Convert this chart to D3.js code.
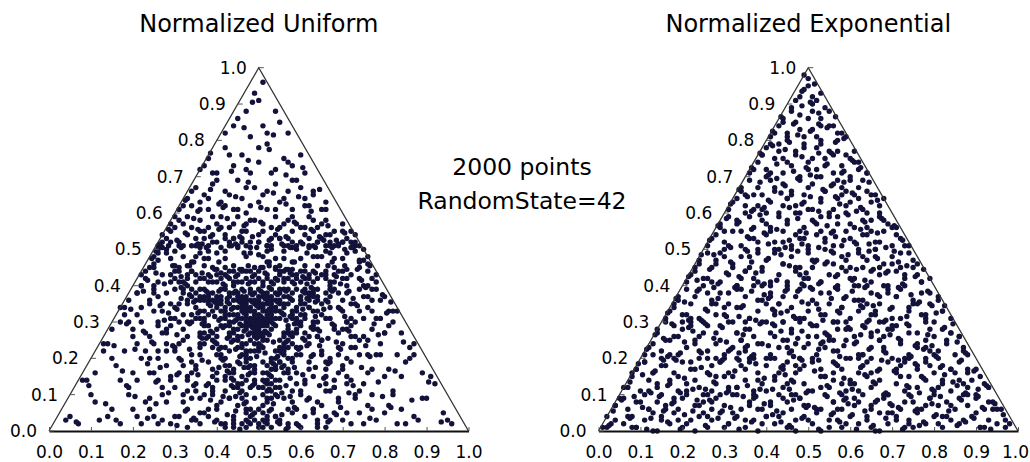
<!DOCTYPE html>
<html>
<head>
<meta charset="utf-8">
<script src="https://cdn.jsdelivr.net/npm/d3@7"></script>
<style>
  body { margin: 0; background: #fff; }
  text { font-family: "DejaVu Sans", sans-serif; }
</style>
</head>
<body>
<svg id="chart" width="1030" height="462"></svg>
<script>
// titles and annotation
const panelTitles = ["Normalized Uniform", "Normalized Exponential"]
const noteLines = ["2000 points", "RandomState=42"]
const tickValues = [0, 0.1, 0.2, 0.3, 0.4, 0.5, 0.6, 0.7, 0.8, 0.9, 1.0]

// points: [position along base %, height %]
// (a sample of the 2000 dots, estimated region by region)
const uniformPoints = [
  [42,39],[45,38],[48,39],[51,40],[54,38],[57,39],[59,39],[44,40],[50,37],[53,39],[56,37],[47,37],[41,39],
  [44,36],[46,35],[49,36],[52,35],[55,36],[57,35],[43,35],[48,34],[51,37],[54,34],[50,35],[46,37],[53,36],[56,34],[45,34],[58,36],
  [45,31],[47,32],[49,31],[51,33],[53,32],[55,31],[48,33],[50,30],[52,31],[46,33],[54,33],[50,32],[47,30],[53,30],[44,32],[56,32],
  [47,28],[49,27],[51,29],[53,28],[48,29],[50,26],[52,27],[46,29],[54,29],[50,28],[49,29],[51,27],
  [49,24],[51,23],[50,22],[48,25],[52,25],[50,24],[49,22],[51,25],
  [43,38],[55,39],[47,36],[52,38],[49,33],[51,31],[48,31],[52,33],[50,29],[45,36],[55,35],[49,38],[53,34],[47,34],[51,35],
  [34,44],[36,42],[38,43],[40,41],[41,43.5],[43,42],[45,43],[46,41],[48,44],[50,42],[51,45],[53,41],[55,43],[57,42],[58,46.5],[60,41],
  [62,43],[64,45.5],[66,44],[63,41],[37,45.5],[39,41],[42,45],[44,41],[47,42],[49,43],[52,46.5],[54,42],[56,44],[59,42],[61,44],[65,43],
  [35,43],[44,44],[56,41],[61,42],[48,41],[52,42],[40,43],[58,43],
  [36,39],[38,38],[37,37],[39,36],[38,35],[41,37],[40,34],[39,33],[42,33],[41,31],[43,32],[42,29],[44,30],[43,27],[45,28],[44,25],
  [46,26],[45,23],[47,24],[46,21],[48,22],[47,19],[49,18],[48,16],[49,14],[50,12],[36,37],[40,36],[41,35],[43,30],[45,25],[47,21],
  [49,17],[38,36],[42,34],
  [61,39],[63,38],[62,36],[64,37],[60,35],[62,34],[59,33],[61,32],[58,31],[60,30],[57,29],[59,28],[56,27],[58,26],[55,25],[57,23],
  [54,22],[56,21],[53,20],[55,19],[52,18],[54,17],[51,16],[52,14],[51,12],[64,39],[60,37],[59,31],[57,27],[55,22],[53,17],[62,38],
  [58,33],[56,24],[51,19],
  [27,50.5],[29,47.5],[31,51],[33,45.5],[35,48],[36,49],[38,49.5],[40,44.5],[42,47.5],[43,52],[45,50.5],[47,48],[49,45],[50,52],[52,49.5],[54,44.5],
  [56,47.5],[57,51],[59,50],[61,45.5],[63,48],[64,52],[66,49.5],[68,45],[70,47.5],[72,50.5],[73,51],[30,49.5],[34,46.5],[37,47.5],[41,50.5],[44,53],
  [46,44.5],[48,49],[51,48],[53,50],[55,45.5],[58,50.5],[60,47.5],[62,51],[65,48],[67,49],[69,51.5],[71,44.5],[28,49],[39,52],[57,44.5],[73,49.5],
  [29,43],[31,44],[32,41],[30,42],[34,44],[32,39],[34,37],[33,36],[35,38],[36,36],[35,34],[36,31],[37,33],[38,32],[34,32],
  [37,29],[39,27],[40,28],[38,26],[41,29],[40,24],[41,21],[42,23],[43,22],[39,23],[42,18],[44,17],[43,16],[45,19],[46,15],
  [45,13],[46,11],[47,14],[48,12],[44,14],[47,8],[48,6],[49,9],[46,9],[49,3],[48,4],[50,2],[33,40],[37,30],[41,20],[44,12],
  [66,42],[68,43],[70,44],[67,41],[71,42],[64,36],[66,38],[67,37],[65,35],[68,39],[61,31],[63,33],[65,32],[62,34],[64,30],
  [59,27],[60,29],[62,26],[63,28],[61,25],[56,22],[58,24],[60,21],[57,20],[59,23],[54,17],[55,19],[57,16],[56,18],[53,15],
  [52,11],[53,13],[55,12],[54,14],[51,10],[51,7],[52,8],[53,9],[50,6],[51,3],[52,4],[50,1],[67,40],[63,29],[58,20],[54,10],
  [26,51],[28,53],[29,55],[31,52],[32,57],[33,54],[35,51],[36,58],[37,53],[38,56],[40,52],[41,59],[42,54],[43,51],[44,57],[46,53],
  [47,55],[48,52],[49,58],[50,54],[52,51],[53,56],[54,59],[55,53],[56,51],[58,55],[59,57],[60,52],[61,54],[62,59],[63,51],[64,56],
  [65,53],[66,58],[67,52],[68,55],[69,51],[70,57],[71,53],[72,55],[73,52],[74,51],[30,59],[34,56],[39,54],[45,59],[51,57],[57,58],
  [60,56],[27,52],[31,58],[36,55],[41,56],[47,51],[53,53],[58,52],[63,58],[66,54],[70,52],[44,53],[55,56],
  [31,61],[33,64],[35,67],[34,62],[37,65],[38,61],[39,68],[41,63],[42,66],[44,61],[45,69],[46,64],[48,62],[49,67],[51,65],[52,61],
  [54,68],[55,63],[57,66],[58,61],[59,69],[61,64],[62,62],[63,66],[65,61],[66,63],[36,63],[47,60],[60,67],
  [36,72],[38,75],[40,71],[42,78],[44,73],[46,76],[48,71],[50,74],[52,79],[54,72],[56,75],[58,73],[61,71],
  [42,82],[45,86],[48,81],[51,84],[54,88],[57,82],[49,93],[51,96],
  [40,3],[31,20],[24,35],[37,10],[28,28],[22,40],[40,6],[35,17],[27,33],[44,1],[38,13],[32,25],[23,42],[41,8],[34,21],[26,37],
  [23,44],[44,4],[39,15],[31,30],[24,45],[42,11],[36,23],[28,38],[46,2],[45,7],[38,19],[32,32],[25,46],[47,3],[42,14],[36,27],
  [29,41],[25,48],[36,9],[28,24],[21,38],[27,35],[33,26],[42,1],[37,24],[35,13],[22,43],[39,17],[44,3],[33,14],[29,31],[27,27],
  [38,4],[43,9],[40,16],[31,35],[25,39],[34,30],[37,5],[41,2],[30,22],[35,11],[26,30],[32,18],[39,11],
  [29,2],[31,4],[33,6],[35,3],[28,8],[30,12],[32,10],[34,9],[26,14],[28,18],[24,16],[22,20],[25,24],[20,26],[22,30],[18,32],
  [19,36],[21,38],[17,34],[27,12],[31,16],[36,5],[24,20],[26,22],[29,15],[21,24],[17,30],[33,1],[23,27],
  [22,2],[25,4],[20,6],[24,9],[19,12],[21,14],[16,18],[18,22],[14,24],[15,28],[27,3],[23,8],[13,22],
  [12,3],[15,6],[10,10],[8,14],[17,2],[11,16],[5,4],[7,2],
  [58,5],[70,18],[75,37],[64,8],[71,30],[77,39],[61,4],[66,15],[72,31],[55,2],[63,15],[69,23],[76,44],[60,10],[67,19],[73,35],
  [78,43],[57,6],[62,17],[70,28],[75,47],[59,13],[65,21],[71,40],[53,1],[56,9],[63,21],[69,34],[74,45],[54,4],[59,16],[65,25],
  [72,43],[76,48],[65,7],[73,26],[79,36],[74,33],[68,28],[59,2],[64,26],[66,11],[77,42],[62,19],[57,2],[68,12],[72,29],[74,25],
  [63,6],[58,11],[61,14],[70,36],[76,40],[67,31],[64,3],[60,1],[71,20],[66,13],[75,31],[69,16],[62,9],
  [70,3],[68,5],[66,4],[64,2],[73,9],[71,13],[69,9],[67,11],[75,13],[72,19],[77,17],[79,21],[76,25],[80,27],[78,31],[81,33],
  [80,37],[78,39],[83,33],[74,11],[70,17],[63,6],[76,21],[73,23],[72,14],[79,24],[82,30],[66,1],[77,28],
  [78,3],[74,5],[81,7],[77,10],[82,11],[80,15],[85,19],[83,21],[86,23],[84,27],[72,2],[76,7],[87,21],
  [88,3],[84,6],[90,9],[92,13],[83,2],[89,16],[94,5],[96,2],
  // second pass
  [43,37],[46,39],[49,35],[52,37],[55,38],[58,38],[44,34],[47,33],[50,36],[53,33],[56,35],[45,32],[48,30],[51,34],[54,31],[46,31],
  [49,28],[52,30],[48,27],[51,26],[50,23],[49,26],[52,29],[47,29],[53,35],[50,39],[42,40],[57,37],[45,37],[54,36],[48,36],[51,38],
  [46,34],[55,33],[49,32],[52,32],[47,35],[53,37],[50,34],[48,38],[56,39],[44,38],[51,30],[50,27],[49,30],[53,31],[47,31],[50,31],
  [52,36],[46,36],
  [33,43],[35,41],[37,42],[39,45],[41,42],[43,44],[45,41],[47,44],[49,41],[50,44],[52,43],[54,45],[56,42],[58,41],[60,44],[62,42],
  [64,42],[66,43],[38,41],[42,43],[46,44],[51,41],[55,44],[59,43],[63,44],
  [37,39],[39,38],[38,37],[40,37],[40,35],[41,33],[42,31],[43,29],[44,28],[43,26],[45,26],[46,24],[46,23],[47,22],[48,20],[48,18],
  [49,16],[49,13],[37,36],[41,36],[42,32],[44,27],[47,20],
  [61,38],[63,39],[62,37],[60,36],[61,35],[59,34],[60,32],[58,32],[59,30],[57,28],[56,26],[58,27],[55,23],[56,23],[54,20],[53,19],
  [52,16],[51,14],[52,13],[63,37],[57,25],[54,18],
  [26,49],[28,50],[30,45.5],[32,48],[34,51],[36,50.5],[38,47.5],[40,49],[42,49.5],[44,45.5],[46,52],[48,50.5],[50,48.5],[52,51],[54,47.5],[56,49.5],
  [58,44.5],[60,52],[62,50.5],[64,48],[66,51],[68,47.5],[70,52],[71,49],[74,46.5],[31,45],[55,53],[67,51],
  [30,44],[31,41],[33,42],[32,38],[34,39],[33,35],[35,36],[36,33],[35,31],[37,31],[38,29],[37,27],[39,25],[40,26],[41,23],[40,21],
  [42,20],[43,18],[42,15],[44,16],[45,12],[46,13],[47,10],[47,6],[49,5],[48,2],
  [69,44],[70,42],[68,41],[67,39],[69,38],[66,36],[67,34],[64,33],[66,31],[63,30],[64,28],[61,27],[62,24],[60,23],[59,21],[58,19],
  [57,17],[56,16],[55,14],[54,12],[53,11],[52,9],[51,5],[53,6],[52,3],[51,1],
  [27,54],[29,52],[30,56],[32,51],[33,59],[35,53],[37,55],[38,51],[40,57],[42,53],[43,56],[45,51],[46,55],[48,58],[50,52],[51,55],
  [53,51],[54,54],[56,57],[57,53],[59,51],[61,56],[62,53],[64,52],[65,57],[67,54],[68,51],[70,55],[72,52],[73,54],[29,57],[39,59],
  [47,57],[58,59],[63,55],[26,50],[75,50],
  [32,62],[34,66],[36,61],[38,64],[40,69],[42,62],[43,65],[45,61],[47,67],[50,63],[52,66],[54,61],[56,64],[58,69],[61,62],[63,65],
  [66,61],[37,73],[39,71],[43,76],[47,72],[50,78],[53,71],[57,74],[60,76],[44,84],[47,88],[52,82],[55,85],[50,91],
  [38,6],[34,16],[29,29],[25,38],[39,12],[36,21],[30,34],[27,43],[47,5],[28,27],[24,36],[42,2],[35,18],[30,31],[26,41],[43,9],
  [36,24],[30,39],[33,15],[25,33],[34,19],[39,10],[25,40],[32,28],[40,14],[47,1],[36,26],[22,40],[31,24],[44,2],[29,35],[25,45],
  [33,30],[40,7],[30,23],[26,47],[26,29],
  [30,4],[27,10],[34,3],[32,8],[25,16],[23,22],[20,28],[18,34],[21,32],[26,20],[29,14],[33,11],[24,26],[19,30],[22,34],[36,2],
  [28,22],[21,4],[19,10],[17,14],[15,20],[13,24],[24,6],[20,16],[26,2],[14,4],[11,8],[9,14],[16,3],[4,3],
  [63,5],[66,17],[71,28],[76,37],[60,11],[65,22],[70,33],[74,42],[54,4],[72,26],[77,36],[57,1],[66,19],[71,30],[75,40],[58,8],
  [65,25],[71,38],[68,14],[76,34],[67,20],[62,9],[74,39],[69,27],[61,13],[52,2],[64,26],[78,41],[70,24],[55,3],[72,35],[76,46],
  [68,29],[59,6],[69,21],[74,47],[73,30],
  [71,5],[73,10],[67,3],[69,8],[76,16],[78,21],[80,27],[82,33],[79,31],[74,21],[71,15],[68,12],[75,26],[81,29],[77,33],[64,1],
  [72,23],[80,5],[82,10],[84,15],[86,20],[87,24],[77,6],[81,17],[75,2],[87,4],[89,9],[91,15],[85,2],[95,3],
  // third pass
  [44.5,38.5],[47.5,40.5],[50.5,38.5],[53.5,40.5],[56.5,38.5],[42.5,36.5],[45.5,35.5],[48.5,37.5],[51.5,36.5],[54.5,37.5],
  [57.5,36.5],[43.5,33.5],[46.5,32.5],[49.5,34.5],[52.5,33.5],[55.5,32.5],[47.5,30.5],[50.5,31.5],[53.5,29.5],[45.5,29.5],
  [48.5,28.5],[51.5,27.5],[49.5,25.5],[50.5,23.5],[52.5,26.5],[47.5,26.5],[49.5,20.5],[51.5,21.5],[44.5,30.5],[56.5,30.5],
  [46.5,38.5],[52.5,39.5],[58.5,40.5],[41.5,40.5],[54.5,35.5],[46.5,27.5],[53.5,24.5],[48.5,35.5],
  [33.5,45.5],[36.5,43.5],[39.5,44.5],[42.5,42.5],[45.5,44.5],[48.5,42.5],[51.5,43.5],[54.5,41.5],[57.5,43.5],[60.5,42.5],
  [63.5,43.5],[66.5,45.5],[38.5,42.5],[47.5,45.5],[56.5,44.5],[61.5,40.5],[44.5,42.5],[52.5,45.5],
  [37.5,38.5],[38.5,34.5],[39.5,31.5],[41.5,28.5],[42.5,25.5],[44.5,22.5],[45.5,20.5],[46.5,17.5],[47.5,15.5],[48.5,12.5],
  [40.5,38.5],[42.5,35.5],[43.5,24.5],[45.5,18.5],[39.5,35.5],[40.5,30.5],[47.5,17.5],
  [62.5,39.5],[61.5,36.5],[60.5,33.5],[59.5,29.5],[57.5,26.5],[56.5,24.5],[55.5,21.5],[53.5,18.5],[52.5,15.5],[51.5,13.5],
  [63.5,35.5],[58.5,29.5],[55.5,17.5],[60.5,38.5],[57.5,31.5],[54.5,20.5],[52.5,11.5],
  [25.5,49.5],[28.5,51],[31.5,50.5],[34.5,46.5],[37.5,50.5],[40.5,46.5],[43.5,51],[46.5,49],[49.5,50.5],[52.5,46.5],
  [55.5,51.5],[58.5,46.5],[61.5,49],[63.5,50.5],[67.5,46.5],[70.5,50],[72.5,50.5],[35.5,51.5],[50.5,45],[65.5,52.5],
  [29.5,45.5],[31.5,42.5],[32.5,40.5],[33.5,37.5],[34.5,35.5],[35.5,32.5],[36.5,29.5],[38.5,27.5],[39.5,24.5],[40.5,22.5],
  [41.5,19.5],[42.5,16.5],[43.5,14.5],[45.5,10.5],[46.5,7.5],[48.5,4.5],[47.5,2.5],[44.5,9.5],[37.5,25.5],[31.5,39.5],
  [70.5,45.5],[68.5,42.5],[67.5,38.5],[66.5,35.5],[65.5,33.5],[63.5,31.5],[62.5,28.5],[61.5,23.5],[59.5,22.5],[58.5,17.5],
  [57.5,14.5],[56.5,12.5],[54.5,9.5],[53.5,7.5],[52.5,5.5],[51.5,2.5],[55.5,10.5],[60.5,25.5],[64.5,27.5],[69.5,40.5],
  [26.5,51.5],[28.5,55.5],[30.5,52.5],[32.5,54.5],[34.5,58.5],[36.5,51.5],[38.5,53.5],[40.5,55.5],[42.5,58.5],[44.5,51.5],
  [46.5,56.5],[48.5,53.5],[50.5,57.5],[52.5,52.5],[54.5,55.5],[56.5,53.5],[58.5,57.5],[60.5,51.5],[62.5,55.5],[64.5,53.5],
  [66.5,56.5],[68.5,52.5],[70.5,54.5],[72.5,51.5],[35.5,55.5],[45.5,53.5],[57.5,50.5],[67.5,50.5],
  [32.5,63.5],[35.5,60.5],[38.5,66.5],[41.5,61.5],[44.5,64.5],[47.5,68.5],[50.5,61.5],[53.5,65.5],[56.5,62.5],[59.5,64.5],
  [62.5,60.5],[64.5,66.5],[40.5,62.5],[38.5,76.5],[43.5,71.5],[47.5,74.5],[52.5,77.5],[56.5,70.5],[60.5,72.5],
  [46.5,83.5],[53.5,81.5],[48.5,90.5],
  [39.5,2.5],[44.5,5.5],[41.5,9.5],[37.5,12.5],[40.5,17.5],[35.5,15.5],[33.5,22.5],[36.5,19.5],[30.5,26.5],[33.5,29.5],
  [28.5,32.5],[31.5,36.5],[26.5,34.5],[27.5,40.5],[23.5,41.5],[25.5,43.5],[24.5,47.5],[22.5,38.5],[42.5,4.5],[38.5,8.5],
  [45.5,0.5],[34.5,12.5],[29.5,23.5],[31.5,19.5],[27.5,30.5],[36.5,25.5],[43.5,12.5],[30.5,33.5],
  [30.5,1.5],[32.5,5.5],[28.5,10.5],[25.5,13.5],[30.5,15.5],[23.5,18.5],[20.5,22.5],[22.5,27.5],[18.5,29.5],[19.5,33.5],
  [26.5,17.5],[34.5,3.5],[24.5,24.5],[23.5,3.5],[20.5,9.5],[17.5,16.5],[15.5,23.5],[25.5,7.5],[18.5,12.5],[13.5,7.5],
  [9.5,12.5],[6.5,2.5],
  [59.5,1.5],[55.5,4.5],[61.5,8.5],[57.5,9.5],[64.5,12.5],[60.5,15.5],[66.5,18.5],[62.5,20.5],[68.5,24.5],[64.5,23.5],
  [70.5,31.5],[67.5,29.5],[72.5,36.5],[69.5,33.5],[74.5,41.5],[71.5,38.5],[76.5,45.5],[73.5,44.5],[56.5,0.5],[58.5,6.5],
  [63.5,17.5],[66.5,25.5],[71.5,27.5],[75.5,39.5],[54.5,2.5],[65.5,14.5],[69.5,22.5],[73.5,34.5],
  [66.5,2.5],[69.5,6.5],[72.5,12.5],[74.5,17.5],[76.5,20.5],[78.5,26.5],[80.5,32.5],[81.5,35.5],[77.5,29.5],[71.5,10.5],
  [68.5,4.5],[75.5,23.5],[79.5,37.5],[76.5,3.5],[79.5,9.5],[82.5,16.5],[84.5,24.5],[78.5,13.5],[81.5,6.5],[86.5,8.5],
  [90.5,13.5],[93.5,2.5]
]

const exponentialPoints = [
  [2,1],[4,3],[6,2],[8,4],[9,1],[11,3],[13,0],[15,4],[17,2],[18,5],[20,1],[22,3],[24,4],[26,1],[27,3],[29,5],[31,2],[33,4],
  [35,1],[37,3],[38,0],[40,4],[42,2],[44,5],[46,1],[47,3],[49,4],[51,2],[53,0],[55,3],[56,5],[58,1],[60,4],[62,2],[64,3],[65,1],
  [67,5],[69,2],[71,4],[73,1],[74,3],[76,5],[78,2],[80,4],[82,1],[84,3],[86,2],[89,4],[91,1],[93,3],[95,2],[97,1],
  [4,7],[6,9],[7,6],[9,8],[11,10],[12,6],[14,8],[16,7],[18,9],[19,6],[21,10],[23,7],[25,8],[27,6],[28,9],[30,7],[32,10],[34,6],
  [36,8],[37,9],[39,6],[41,7],[43,10],[45,8],[46,6],[48,9],[50,7],[52,6],[54,10],[56,8],[57,6],[59,9],[61,7],[63,10],[65,6],[66,8],
  [68,9],[70,7],[72,6],[74,10],[75,8],[77,6],[79,9],[81,7],[83,8],[85,6],[87,10],[88,7],[90,9],[92,6],[94,8],[96,6],
  [7,12],[8,15],[10,11],[12,14],[14,12],[15,10],[17,13],[19,15],[21,11],[23,14],[24,12],[26,10],[28,13],[30,15],[31,11],[33,12],
  [35,14],[37,10],[39,13],[40,11],[42,15],[44,12],[46,14],[47,10],[49,13],[51,11],[53,15],[55,12],[56,14],[58,10],[60,13],[62,11],
  [64,15],[65,12],[67,14],[69,10],[71,13],[73,11],[74,15],[76,12],[78,14],[80,10],[82,13],[84,11],[86,14],[88,12],[90,10],[92,13],
  [9,17],[11,19],[13,16],[15,20],[16,18],[18,16],[20,19],[22,17],[24,20],[26,16],[27,18],[29,19],[31,16],[33,20],[35,17],[36,19],
  [38,16],[40,18],[42,20],[44,17],[45,19],[47,16],[49,18],[51,20],[53,17],[54,15],[56,19],[58,17],[60,20],[62,16],[63,18],[65,20],
  [67,17],[69,19],[71,16],[72,18],[74,20],[76,17],[78,19],[80,16],[82,18],[84,17],[86,19],[88,16],[90,17],
  [11,21],[13,24],[15,22],[17,25],[19,21],[21,23],[23,25],[24,22],[26,20],[28,24],[30,21],[32,23],[34,25],[35,22],[37,20],[39,24],
  [41,21],[43,23],[45,25],[46,22],[48,20],[50,24],[52,21],[54,23],[56,25],[57,22],[59,20],[61,24],[63,21],[65,23],[67,25],[68,22],
  [70,20],[72,24],[74,21],[76,23],[78,25],[79,22],[81,20],[83,24],[85,21],[87,23],
  [14,27],[16,30],[18,26],[20,28],[22,30],[24,26],[26,29],[28,27],[29,25],[31,30],[33,27],[35,28],[37,26],[39,30],[41,27],[42,29],
  [44,25],[46,28],[48,30],[50,26],[52,29],[54,27],[55,25],[57,30],[59,28],[61,26],[63,29],[65,27],[67,30],[68,26],[70,28],[72,25],
  [74,29],[76,27],[78,30],[80,26],[82,28],[84,27],[86,26],
  [16,31],[18,34],[20,32],[22,35],[24,31],[26,33],[28,35],[30,32],[32,30],[34,34],[36,31],[38,33],[40,35],[42,32],[44,30],[46,34],
  [48,31],[50,33],[52,35],[54,32],[56,30],[58,34],[60,31],[62,33],[64,35],[66,32],[68,30],[70,34],[72,31],[74,33],[76,35],[78,32],
  [80,30],[82,33],[84,31],
  [19,36],[21,39],[23,37],[25,40],[27,36],[29,38],[31,35],[33,39],[35,37],[37,40],[39,36],[41,38],[43,35],[45,39],[47,37],[49,40],
  [51,36],[53,38],[55,35],[57,39],[59,37],[61,40],[63,36],[65,38],[67,35],[69,39],[71,37],[73,40],[75,36],[77,38],[79,35],[81,37],
  [21,41],[23,44],[25,42],[27,45],[29,41],[31,43],[33,40],[35,44],[37,42],[39,45],[41,41],[43,43],[45,40],[47,44],[49,42],[51,45],
  [53,41],[55,43],[57,40],[59,44],[61,42],[63,45],[65,41],[67,43],[69,40],[71,44],[73,42],[75,45],[77,41],[79,42],
  [24,46],[26,49],[28,47],[30,50],[32,46],[34,48],[36,45],[38,49],[40,47],[42,50],[44,46],[46,48],[48,45],[50,49],[52,47],[54,50],
  [56,46],[58,48],[60,45],[62,49],[64,47],[66,50],[68,46],[70,48],[72,45],[74,49],[76,46],
  [26,51],[28,54],[30,52],[32,55],[34,51],[36,53],[38,50],[40,54],[42,52],[44,55],[46,51],[48,53],[50,50],[52,54],[54,52],[56,55],
  [58,51],[60,53],[62,50],[64,54],[66,52],[68,55],[70,51],[72,53],[74,51],
  [29,56],[31,59],[33,57],[35,60],[37,56],[39,58],[41,55],[43,59],[45,57],[47,60],[49,56],[51,58],[53,55],[55,59],[57,57],[59,60],
  [61,56],[63,58],[65,55],[67,59],[69,57],[71,56],
  [31,61],[33,64],[35,62],[37,65],[39,61],[41,63],[43,60],[45,64],[47,62],[49,65],[51,61],[53,63],[55,60],[57,64],[59,62],[61,65],
  [63,61],[65,63],[67,60],[68,64],
  [34,66],[36,69],[38,67],[40,70],[42,66],[44,68],[46,65],[48,69],[50,67],[52,70],[54,66],[56,68],[58,65],[60,69],[62,67],[64,66],[66,65],
  [36,71],[38,74],[40,72],[42,75],[44,71],[46,73],[48,70],[50,74],[52,72],[54,75],[56,71],[58,73],[60,70],[62,74],[64,71],
  [39,76],[41,79],[43,77],[45,80],[47,76],[49,78],[51,75],[53,79],[55,77],[57,80],[59,76],[61,77],
  [41,81],[43,84],[45,82],[47,85],[49,81],[51,83],[53,80],[55,84],[57,82],[59,81],
  [44,86],[46,89],[48,87],[51,90],[53,86],[55,88],[47,91],[49,94],[51,92],[53,93],[50,97],
  // second pass
  [1,1],[3,2],[4,7],[7,4],[8,1],[10,8],[13,5],[14,0],[16,6],[19,3],[20,9],[21,2],[24,7],[26,4],[27,8],[30,1],[32,5],[33,10],
  [35,3],[38,6],[39,2],[41,8],[43,4],[44,9],[47,0],[49,7],[50,3],[52,5],[55,1],[56,8],[58,6],[59,2],[61,9],[64,4],[65,7],[67,0],
  [70,5],[71,3],[73,8],[75,1],[76,6],[79,9],[81,2],[82,4],[84,7],[87,3],[88,10],[90,5],[92,1],[93,8],[95,6],[98,2],
  [2,4],[5,9],[9,1],[12,6],[15,3],[18,8],[23,0],[25,5],[29,10],[31,2],[36,7],[40,4],[45,1],[48,9],[53,6],[57,3],[62,8],[66,0],
  [69,5],[74,2],[78,7],[83,4],[86,9],[91,1],[94,6],[97,3],
  [6,12],[8,16],[11,19],[12,11],[15,18],[17,14],[18,20],[21,13],[23,17],[25,10],[26,16],[29,19],[31,12],[32,15],[34,18],[37,11],
  [38,14],[40,20],[43,16],[45,13],[46,10],[48,17],[51,19],[53,12],[54,15],[57,18],[59,11],[60,14],[62,20],[65,16],[66,13],[68,10],
  [71,17],[73,19],[74,12],[77,15],[79,18],[80,11],[82,14],[85,16],[87,13],[88,17],[91,15],[93,12],
  [9,17],[14,13],[19,11],[22,19],[28,15],[33,12],[36,20],[42,14],[47,18],[50,11],[56,16],[61,13],[64,19],[69,10],[72,15],[76,18],
  [81,12],[84,17],[89,14],[13,16],[27,11],[44,18],[58,13],[78,20],
  [12,23],[14,28],[17,21],[19,26],[20,30],[23,24],[25,27],[28,20],[29,29],[31,22],[34,25],[36,28],[37,21],[40,30],[42,26],[45,23],
  [46,27],[48,20],[51,29],[53,24],[56,22],[57,28],[59,25],[62,21],[64,30],[65,26],[68,23],[70,29],[73,20],[74,27],[76,24],[79,28],
  [81,22],[83,25],[86,26],[88,21],
  [13,21],[16,25],[22,29],[26,22],[33,27],[38,24],[41,20],[44,30],[49,23],[55,26],[60,28],[63,21],[67,25],[71,29],[78,23],[84,27],
  [87,22],[18,29],[30,20],[47,24],[52,26],[69,28],[80,21],[35,23],
  [17,33],[19,37],[22,31],[24,39],[27,35],[28,32],[31,38],[33,34],[35,30],[38,36],[39,40],[42,33],[44,37],[47,31],[48,39],[50,35],
  [53,32],[55,38],[58,34],[59,30],[61,36],[64,40],[66,33],[67,37],[70,31],[72,39],[75,35],[77,32],[79,38],[82,33],
  [18,35],[21,32],[26,38],[30,34],[36,31],[41,37],[45,33],[51,39],[56,30],[62,36],[65,32],[69,38],[74,34],[78,31],[81,36],[25,30],
  [34,39],[43,35],[57,33],[71,37],[49,31],[63,34],
  [22,43],[24,47],[27,41],[29,49],[32,45],[34,42],[36,48],[39,44],[41,40],[44,46],[46,50],[48,43],[51,47],[53,41],[56,49],[58,45],
  [60,42],[63,48],[65,44],[68,40],[70,46],[73,43],[75,47],[77,41],
  [23,45],[26,42],[30,48],[35,44],[38,41],[42,49],[47,45],[50,42],[54,46],[57,43],[62,40],[66,48],[69,44],[72,49],[76,43],[28,46],
  [45,41],[59,47],[33,40],[67,45],
  [27,53],[29,57],[31,51],[34,55],[36,59],[38,52],[41,56],[43,50],[45,58],[47,54],[50,51],[52,57],[54,53],[57,59],[59,55],[61,52],
  [64,56],[66,50],[68,58],[71,54],[73,51],
  [30,55],[33,58],[37,53],[40,57],[44,52],[48,55],[53,59],[56,51],[60,57],[63,54],[67,52],[70,56],[35,50],[49,53],[65,58],
  [32,63],[34,67],[37,61],[39,65],[41,69],[44,62],[46,66],[48,60],[51,68],[53,64],[56,61],[58,67],[60,63],[63,69],[65,65],[67,62],
  [35,65],[38,62],[42,67],[45,64],[50,61],[54,66],[57,69],[62,64],[64,60],[40,60],[49,63],[59,66],
  [37,72],[39,76],[41,71],[43,79],[45,74],[47,77],[50,72],[52,78],[54,73],[56,76],[58,71],[60,75],[62,72],[64,71],[40,78],[44,75],
  [49,79],[53,70],[57,77],[61,74],
  [42,82],[44,85],[46,88],[48,83],[50,86],[52,81],[54,89],[56,84],[58,82],[45,81],[51,88],[53,84],
  [48,92],[50,95],[52,91],[49,98],
  // third pass
  [2.5,1.5],[5.5,8.5],[7.5,3.5],[10.5,6.5],[11.5,0.5],[14.5,9.5],[16.5,2.5],[17.5,7.5],[20.5,4.5],[22.5,5.5],[25.5,1.5],
  [26.5,8.5],[28.5,3.5],[31.5,6.5],[33.5,0.5],[34.5,9.5],[36.5,2.5],[39.5,7.5],[41.5,4.5],[42.5,5.5],[45.5,1.5],[46.5,8.5],
  [48.5,3.5],[51.5,6.5],[52.5,0.5],[54.5,9.5],[57.5,2.5],[59.5,7.5],[60.5,4.5],[63.5,5.5],[65.5,1.5],[66.5,8.5],[68.5,3.5],
  [71.5,6.5],[72.5,0.5],[74.5,9.5],[77.5,2.5],[79.5,7.5],[80.5,4.5],[83.5,5.5],[85.5,1.5],[86.5,8.5],[89.5,3.5],[91.5,6.5],
  [93.5,0.5],[96.5,4.5],[3.5,5.5],[8.5,9.5],[12.5,3.5],[19.5,0.5],[23.5,8.5],[29.5,5.5],[37.5,9.5],[43.5,2.5],[49.5,6.5],
  [55.5,4.5],[61.5,0.5],[69.5,7.5],[75.5,5.5],[81.5,9.5],[87.5,2.5],[94.5,7.5],[15.5,5.5],[32.5,3.5],[58.5,8.5],[76.5,1.5],
  [90.5,9.5],
  [7.5,13.5],[9.5,18.5],[12.5,10.5],[13.5,16.5],[16.5,12.5],[18.5,19.5],[20.5,14.5],[22.5,11.5],[24.5,17.5],[27.5,13.5],
  [29.5,19.5],[30.5,10.5],[32.5,16.5],[35.5,12.5],[37.5,18.5],[39.5,14.5],[41.5,11.5],[43.5,17.5],[46.5,13.5],[48.5,19.5],
  [49.5,10.5],[51.5,16.5],[54.5,12.5],[56.5,18.5],[58.5,14.5],[60.5,11.5],[62.5,17.5],[65.5,13.5],[67.5,19.5],[68.5,10.5],
  [70.5,16.5],[73.5,12.5],[75.5,18.5],[77.5,14.5],[79.5,11.5],[81.5,17.5],[84.5,13.5],[86.5,19.5],[87.5,10.5],[89.5,16.5],
  [92.5,12.5],[10.5,15.5],[15.5,19.5],[19.5,10.5],[26.5,15.5],[33.5,19.5],[38.5,11.5],[44.5,15.5],[52.5,19.5],[57.5,10.5],
  [63.5,15.5],[71.5,19.5],[76.5,10.5],[82.5,15.5],[90.5,11.5],[25.5,11.5],[45.5,11.5],[66.5,16.5],[85.5,12.5],
  [11.5,22.5],[13.5,26.5],[16.5,20.5],[17.5,29.5],[20.5,24.5],[22.5,27.5],[24.5,21.5],[27.5,25.5],[29.5,28.5],[31.5,22.5],
  [34.5,26.5],[36.5,20.5],[38.5,29.5],[40.5,23.5],[43.5,27.5],[45.5,21.5],[47.5,25.5],[50.5,29.5],[52.5,22.5],[54.5,26.5],
  [57.5,20.5],[59.5,28.5],[61.5,24.5],[64.5,22.5],[66.5,27.5],[68.5,21.5],[71.5,25.5],[73.5,29.5],[75.5,23.5],[78.5,26.5],
  [80.5,20.5],[82.5,28.5],[85.5,24.5],[87.5,21.5],[15.5,25.5],[19.5,21.5],[25.5,29.5],[30.5,24.5],[35.5,23.5],[41.5,29.5],
  [46.5,20.5],[53.5,24.5],[58.5,23.5],[63.5,28.5],[69.5,26.5],[74.5,20.5],[79.5,23.5],[84.5,29.5],[21.5,28.5],[33.5,21.5],
  [48.5,27.5],[62.5,26.5],[77.5,22.5],
  [16.5,32.5],[18.5,36.5],[21.5,30.5],[23.5,38.5],[25.5,33.5],[28.5,36.5],[30.5,31.5],[32.5,39.5],[34.5,34.5],[37.5,30.5],
  [39.5,37.5],[41.5,33.5],[44.5,38.5],[46.5,31.5],[48.5,35.5],[50.5,39.5],[53.5,30.5],[55.5,36.5],[57.5,32.5],[60.5,38.5],
  [62.5,34.5],[64.5,30.5],[66.5,37.5],[69.5,33.5],[71.5,39.5],[73.5,31.5],[76.5,35.5],[78.5,38.5],[80.5,32.5],[82.5,34.5],
  [20.5,35.5],[27.5,39.5],[33.5,31.5],[40.5,36.5],[47.5,38.5],[52.5,33.5],[58.5,36.5],[63.5,39.5],[68.5,30.5],[74.5,37.5],
  [79.5,34.5],[24.5,30.5],[43.5,32.5],[56.5,39.5],[65.5,34.5],[36.5,38.5],
  [21.5,42.5],[24.5,48.5],[26.5,44.5],[28.5,40.5],[31.5,46.5],[33.5,42.5],[35.5,49.5],[37.5,43.5],[40.5,47.5],[42.5,41.5],
  [45.5,45.5],[47.5,49.5],[49.5,43.5],[52.5,40.5],[54.5,46.5],[56.5,42.5],[59.5,48.5],[61.5,44.5],[63.5,41.5],[66.5,47.5],
  [68.5,43.5],[70.5,49.5],[73.5,45.5],[75.5,42.5],[77.5,44.5],[23.5,41.5],[30.5,43.5],[36.5,46.5],[43.5,48.5],[48.5,40.5],
  [55.5,49.5],[60.5,41.5],[65.5,44.5],[72.5,40.5],[27.5,48.5],[39.5,40.5],[51.5,46.5],[64.5,49.5],[71.5,46.5],
  [26.5,52.5],[28.5,56.5],[31.5,50.5],[33.5,57.5],[35.5,53.5],[38.5,59.5],[40.5,51.5],[42.5,55.5],[45.5,52.5],[47.5,58.5],
  [49.5,54.5],[52.5,50.5],[54.5,56.5],[56.5,53.5],[59.5,59.5],[61.5,51.5],[63.5,57.5],[66.5,54.5],[68.5,50.5],[70.5,56.5],
  [72.5,52.5],[30.5,58.5],[36.5,55.5],[44.5,50.5],[51.5,57.5],[58.5,52.5],[64.5,51.5],[67.5,58.5],[39.5,54.5],[55.5,54.5],
  [62.5,55.5],[48.5,51.5],
  [31.5,62.5],[33.5,66.5],[36.5,60.5],[38.5,68.5],[40.5,63.5],[43.5,65.5],[45.5,61.5],[47.5,69.5],[50.5,64.5],[52.5,60.5],
  [55.5,67.5],[57.5,62.5],[60.5,65.5],[62.5,61.5],[64.5,68.5],[66.5,63.5],[35.5,64.5],[39.5,61.5],[42.5,69.5],[48.5,62.5],
  [53.5,66.5],[58.5,68.5],[61.5,60.5],[44.5,67.5],[56.5,64.5],
  [36.5,72.5],[38.5,76.5],[40.5,70.5],[42.5,73.5],[44.5,77.5],[46.5,71.5],[48.5,75.5],[50.5,70.5],[52.5,76.5],[54.5,73.5],
  [56.5,79.5],[58.5,71.5],[60.5,74.5],[62.5,72.5],[45.5,79.5],[49.5,72.5],[55.5,76.5],[41.5,78.5],
  [41.5,82.5],[43.5,86.5],[46.5,84.5],[48.5,89.5],[50.5,82.5],[52.5,87.5],[54.5,83.5],[56.5,86.5],[58.5,80.5],[47.5,81.5],
  [52.5,84.5],[48.5,93.5],[50.5,90.5],[51.5,95.5]
]

const svg = d3.select("#chart")
const side = 419.5,
      baseY = 431,
      triH = side * Math.sqrt(3) / 2

const panels = [
  { left: 49, title: panelTitles[0], points: uniformPoints },
  { left: 598.5, title: panelTitles[1], points: exponentialPoints }
]

panels.forEach(p => {
  const x = d3.scaleLinear().domain([0, 1]).range([p.left, p.left + side])
  const y = d3.scaleLinear().domain([0, 1]).range([baseY, baseY - triH])
  // left edge runs from the bottom-left corner up to the apex
  const edge = d3.scaleLinear().domain([0, 1]).range([[x(0), y(0)], [x(0.5), y(1)]])
  const g = svg.append("g")

  g.append("text")
    .attr("x", x(0.5))
    .attr("y", 32)
    .attr("text-anchor", "middle")
    .attr("font-size", 24)
    .text(p.title)

  // dots
  g.append("g").selectAll("circle")
    .data(p.points)
    .join("circle")
      .attr("cx", d => x(d[0] / 100))
      .attr("cy", d => y(d[1] / 100))
      .attr("r", 2.7)
      .attr("fill", "#12123a")

  // two slanted sides
  g.append("path")
    .attr("d", d3.line()([[x(0), y(0)], [x(0.5), y(1)], [x(1), y(0)]]))
    .attr("fill", "none")
    .attr("stroke", "#333")
    .attr("stroke-width", 1.3)

  // bottom axis
  const bottomAxis = g.append("g")
    .attr("transform", `translate(0,${baseY})`)
    .call(d3.axisBottom(x)
      .tickValues(tickValues)
      .tickFormat(d3.format(".1f"))
      .tickSizeInner(-4)
      .tickSizeOuter(0)
      .tickPadding(15))
    .attr("font-size", 17)
    .attr("font-family", "DejaVu Sans")
    .attr("color", "#000")
    .call(a => a.select(".domain").attr("stroke", "#111").attr("stroke-width", 2))
    .call(a => a.selectAll(".tick line").attr("stroke", "#555"))

  // keep the last label inside the page
  bottomAxis.selectAll(".tick text")
    .filter(d => x(d) + 14 > 1030)
    .attr("dx", -3)

  // left edge ticks and labels
  const leftAxis = g.append("g")
  leftAxis.selectAll("line")
    .data(tickValues)
    .join("line")
      .attr("x1", d => edge(d)[0])
      .attr("x2", d => edge(d)[0] + 5)
      .attr("y1", d => edge(d)[1])
      .attr("y2", d => edge(d)[1])
      .attr("stroke", "#555")
  leftAxis.selectAll("text")
    .data(tickValues)
    .join("text")
      .attr("x", d => edge(d)[0] - 12)
      .attr("y", d => edge(d)[1])
      .attr("dy", "0.36em")
      .attr("text-anchor", "end")
      .attr("font-size", 17)
      .text(d3.format(".1f"))
})

// annotation between the panels
svg.append("g").selectAll("text")
  .data(noteLines)
  .join("text")
    .attr("x", 522)
    .attr("y", (d, i) => 175 + i * 34)
    .attr("text-anchor", "middle")
    .attr("font-size", 23.5)
    .text(d => d)
</script>
</body>
</html>
